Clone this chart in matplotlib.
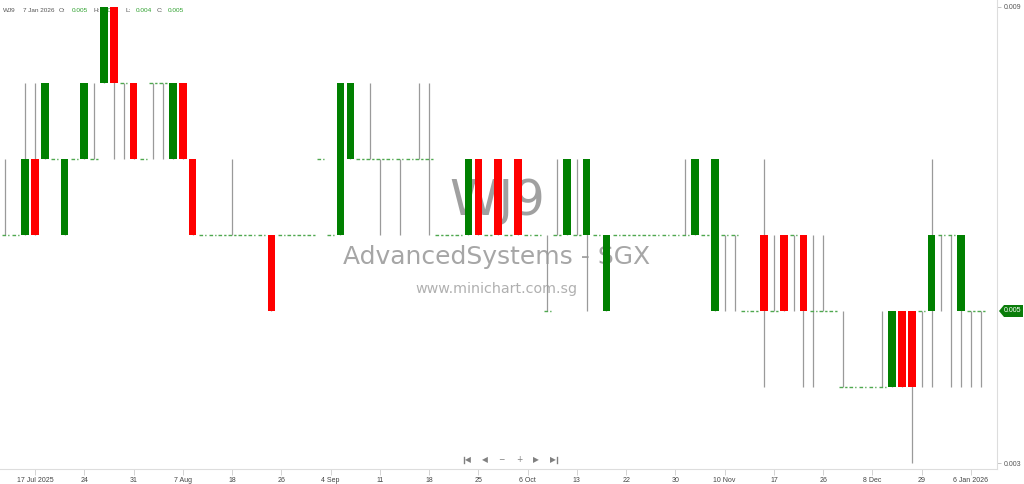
import matplotlib
matplotlib.use("Agg")
import matplotlib.pyplot as plt
from matplotlib.patches import Polygon
from matplotlib.lines import Line2D

W, H = 1024, 484

# daily OHLC, 100 sessions ending 7 Jan 2026
opens = [0.006, 0.006, 0.006, 0.007, 0.007, 0.007, 0.006, 0.007, 0.007, 0.007,
         0.008, 0.009, 0.008, 0.008, 0.007, 0.008, 0.008, 0.007, 0.008, 0.007,
         0.006, 0.006, 0.006, 0.006, 0.006, 0.006, 0.006, 0.006, 0.006, 0.006,
         0.006, 0.006, 0.007, 0.006, 0.006, 0.007, 0.007, 0.007, 0.007, 0.007,
         0.007, 0.007, 0.007, 0.007, 0.006, 0.006, 0.006, 0.006, 0.007, 0.006,
         0.007, 0.006, 0.007, 0.006, 0.006, 0.005, 0.006, 0.006, 0.006, 0.006,
         0.006, 0.005, 0.006, 0.006, 0.006, 0.006, 0.006, 0.006, 0.006, 0.006,
         0.006, 0.006, 0.005, 0.006, 0.006, 0.005, 0.005, 0.006, 0.005, 0.006,
         0.006, 0.006, 0.005, 0.005, 0.005, 0.004, 0.004, 0.004, 0.004, 0.004,
         0.004, 0.005, 0.005, 0.005, 0.005, 0.006, 0.006, 0.005, 0.005, 0.005]
highs = [0.007, 0.006, 0.008, 0.008, 0.008, 0.007, 0.007, 0.007, 0.008, 0.008,
         0.009, 0.009, 0.008, 0.008, 0.007, 0.008, 0.008, 0.008, 0.008, 0.007,
         0.006, 0.006, 0.006, 0.007, 0.006, 0.006, 0.006, 0.006, 0.006, 0.006,
         0.006, 0.006, 0.007, 0.006, 0.008, 0.008, 0.007, 0.008, 0.007, 0.007,
         0.007, 0.007, 0.008, 0.008, 0.006, 0.006, 0.006, 0.007, 0.007, 0.006,
         0.007, 0.006, 0.007, 0.006, 0.006, 0.006, 0.007, 0.007, 0.007, 0.007,
         0.006, 0.006, 0.006, 0.006, 0.006, 0.006, 0.006, 0.006, 0.006, 0.007,
         0.007, 0.006, 0.007, 0.006, 0.006, 0.005, 0.005, 0.007, 0.006, 0.006,
         0.006, 0.006, 0.006, 0.006, 0.005, 0.005, 0.004, 0.004, 0.004, 0.005,
         0.005, 0.005, 0.005, 0.005, 0.007, 0.006, 0.006, 0.006, 0.005, 0.005]
lows = [0.006, 0.006, 0.006, 0.006, 0.007, 0.007, 0.006, 0.007, 0.007, 0.007,
        0.008, 0.007, 0.007, 0.007, 0.007, 0.007, 0.007, 0.007, 0.007, 0.006,
        0.006, 0.006, 0.006, 0.006, 0.006, 0.006, 0.006, 0.005, 0.006, 0.006,
        0.006, 0.006, 0.007, 0.006, 0.006, 0.007, 0.007, 0.007, 0.006, 0.007,
        0.006, 0.007, 0.007, 0.006, 0.006, 0.006, 0.006, 0.006, 0.006, 0.006,
        0.006, 0.006, 0.006, 0.006, 0.006, 0.005, 0.006, 0.006, 0.006, 0.005,
        0.006, 0.005, 0.006, 0.006, 0.006, 0.006, 0.006, 0.006, 0.006, 0.006,
        0.006, 0.006, 0.005, 0.005, 0.005, 0.005, 0.005, 0.004, 0.005, 0.005,
        0.005, 0.004, 0.004, 0.005, 0.005, 0.004, 0.004, 0.004, 0.004, 0.004,
        0.004, 0.004, 0.003, 0.004, 0.004, 0.005, 0.004, 0.004, 0.004, 0.004]
closes = [0.006, 0.006, 0.007, 0.006, 0.008, 0.007, 0.007, 0.007, 0.008, 0.007,
          0.009, 0.008, 0.008, 0.007, 0.007, 0.008, 0.008, 0.008, 0.007, 0.006,
          0.006, 0.006, 0.006, 0.006, 0.006, 0.006, 0.006, 0.005, 0.006, 0.006,
          0.006, 0.006, 0.007, 0.006, 0.008, 0.008, 0.007, 0.007, 0.007, 0.007,
          0.007, 0.007, 0.007, 0.007, 0.006, 0.006, 0.006, 0.007, 0.006, 0.006,
          0.006, 0.006, 0.006, 0.006, 0.006, 0.005, 0.006, 0.007, 0.006, 0.007,
          0.006, 0.006, 0.006, 0.006, 0.006, 0.006, 0.006, 0.006, 0.006, 0.006,
          0.007, 0.006, 0.007, 0.006, 0.006, 0.005, 0.005, 0.005, 0.005, 0.005,
          0.006, 0.005, 0.005, 0.005, 0.005, 0.004, 0.004, 0.004, 0.004, 0.004,
          0.005, 0.004, 0.004, 0.005, 0.006, 0.006, 0.006, 0.006, 0.005, 0.005]

tick_labels = ["17 Jul 2025", "24", "31", "7 Aug", "18", "26", "4 Sep", "11",
               "18", "25", "6 Oct", "13", "22", "30", "10 Nov", "17", "26",
               "8 Dec", "29", "6 Jan 2026"]
first_tick = 3   # session index of 17 Jul 2025
tick_step = 5

GREEN = "#008000"
RED = "#ff0000"
WICK = "#9a9a9a"
DOJI = "#4fa84f"
SMALL = "Liberation Sans"

fig = plt.figure(figsize=(W / 100, H / 100), dpi=100)
fig.patch.set_facecolor("white")
ax = fig.add_axes([0, 15 / H, 997 / W, 469 / H])

n = len(opens)
idx = list(range(n))

# wicks
wx = [i for i in idx if highs[i] > lows[i]]
ax.vlines(wx, [lows[i] for i in wx], [highs[i] for i in wx],
          color=WICK, lw=0.9, zorder=2)

# bodies
up = [i for i in idx if closes[i] > opens[i]]
dn = [i for i in idx if closes[i] < opens[i]]
ax.bar(up, [closes[i] - opens[i] for i in up], bottom=[opens[i] for i in up],
       width=0.76, color=GREEN, edgecolor="none", zorder=3)
ax.bar(dn, [opens[i] - closes[i] for i in dn], bottom=[closes[i] for i in dn],
       width=0.76, color=RED, edgecolor="none", zorder=3)

# doji marks
dj = [i for i in idx if closes[i] == opens[i]]
ax.hlines([opens[i] for i in dj], [i - 0.38 for i in dj], [i + 0.38 for i in dj],
          color=DOJI, lw=1.0, linestyles=(0, (2.6, 1.5)), zorder=3)

ax.set_xlim(-0.55, 100.64)
ax.set_ylim(0.0029211, 0.0090921)

for s in ["top", "left"]:
    ax.spines[s].set_visible(False)
for s in ["bottom", "right"]:
    ax.spines[s].set_color("#dddddd")
    ax.spines[s].set_linewidth(0.8)

ax.set_xticks(list(range(first_tick, n, tick_step)))
ax.set_xticklabels(tick_labels, fontsize=5, family=SMALL, color="#444444")
ax.tick_params(axis="x", length=4, width=0.6, color="#cccccc", pad=1.5)

ax.yaxis.tick_right()
ax.set_yticks([0.003, 0.009])
ax.set_yticklabels(["0.003", "0.009"], fontsize=5, family=SMALL, color="#555555")
ax.tick_params(axis="y", length=3, width=0.6, color="#bbbbbb", pad=2)

# watermark
ax.text(497 / W, 1 - 201 / H, "WJ9", transform=fig.transFigure, fontsize=36,
        color="#a0a0a0", ha="center", va="center", zorder=1)
ax.text(497 / W, 1 - 257 / H, "AdvancedSystems - SGX", transform=fig.transFigure,
        fontsize=18, color="#a6a6a6", ha="center", va="center", zorder=1)
ax.text(496 / W, 1 - 289 / H, "www.minichart.com.sg", transform=fig.transFigure,
        fontsize=10.3, color="#b0b0b0", ha="center", va="center", zorder=1)

# header
header = [(3, "WJ9", "#555555"), (23, "7 Jan 2026", "#555555"), (59, "O:", "#555555"),
          (72, "0.005", "#2ca02c"), (93, "H:", "#555555"), (103, "0.005", "#2ca02c"),
          (125, "L:", "#555555"), (136, "0.004", "#2ca02c"), (157, "C:", "#555555"),
          (168, "0.005", "#2ca02c")]
for x, t, c in header:
    ax.text(x / W, 1 - 10.5 / H, t, transform=fig.transFigure, fontsize=4.6,
            family=SMALL, color=c, ha="left", va="center", zorder=1)

# navigation icons
nav_y = 1 - 459.5 / H
for x, t in [(468, "\u25c0"), (485, "\u25c0"), (501, "\u2212"), (519, "+"),
             (536, "\u25b6"), (553, "\u25b6")]:
    fig.text(x / W, nav_y, t, fontsize=5.5, color="#808080", ha="center", va="center")
for x in [464, 557]:
    fig.add_artist(Line2D([x / W, x / W], [nav_y - 3 / H, nav_y + 3 / H],
                          color="#808080", lw=1, transform=fig.transFigure))

# last price tag
py = 311
tag = Polygon([(999 / W, 1 - py / H), (1004 / W, 1 - (py - 6) / H),
               (1023 / W, 1 - (py - 6) / H), (1023 / W, 1 - (py + 6) / H),
               (1004 / W, 1 - (py + 6) / H)], closed=True,
              transform=fig.transFigure, facecolor="#0a7d0a", edgecolor="none")
fig.add_artist(tag)
fig.text(1013 / W, 1 - py / H, "0.005", fontsize=5, family=SMALL, color="white",
         ha="center", va="center")

fig.savefig("out.png", dpi=100, facecolor="white")
